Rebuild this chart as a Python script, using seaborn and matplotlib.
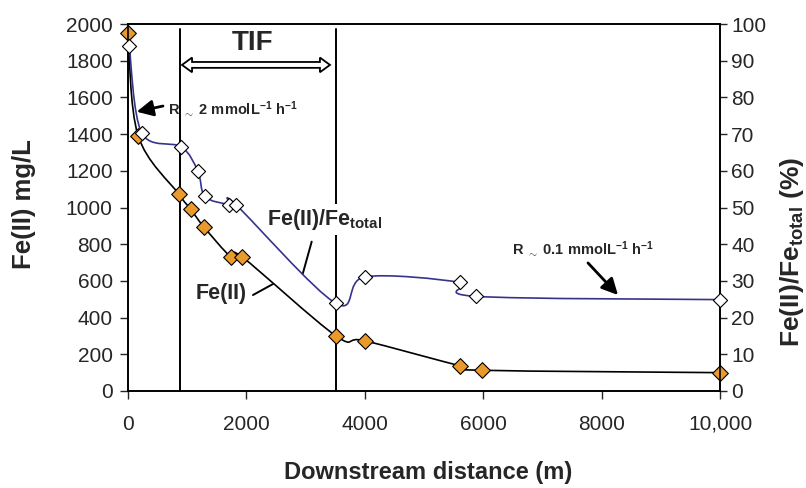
import numpy as np
import pandas as pd
import matplotlib
matplotlib.use("Agg")
import matplotlib.pyplot as plt
import matplotlib.patches as mpatches
from matplotlib.path import Path
import seaborn as sns

# values
dist_fe = [0, 170, 860, 1060, 1280, 1740, 1930, 3510, 4000, 5610, 5980, 10000]
fe2_mg = [1950, 1392, 1072, 990, 895, 730, 730, 301, 274, 137, 113, 100]

dist_ratio = [20, 230, 900, 1180, 1300, 1700, 1820, 3510, 4000, 5600, 5870, 10000]
ratio_pct = [94.1, 70.4, 66.5, 59.9, 53.0, 50.8, 50.8, 23.9, 31.1, 29.6, 25.8, 24.9]

tif_bounds = [870, 3520]
x_ticks = [0, 2000, 4000, 6000, 8000, 10000]
x_ticklabels = ["0", "2000", "4000", "6000", "8000", "10,000"]

ORANGE = "#E89B2C"
NAVY = "#36348A"


def smooth_path(xs, ys):
    """Excel-like smoothed line: cubic Bezier segments through every point."""
    pts = np.column_stack([xs, ys]).astype(float)
    padded = np.vstack([pts[0], pts, pts[-1]])
    verts = [pts[0]]
    codes = [Path.MOVETO]
    for i in range(len(pts) - 1):
        p0, p1, p2, p3 = padded[i], padded[i + 1], padded[i + 2], padded[i + 3]
        verts += [p1 + (p2 - p0) / 6, p2 - (p3 - p1) / 6, p2]
        codes += [Path.CURVE4] * 3
    return Path(verts, codes)


sns.set_theme(style="ticks")
plt.rcParams["font.family"] = ["Liberation Sans", "DejaVu Sans"]
plt.rcParams["mathtext.fontset"] = "custom"
plt.rcParams["mathtext.rm"] = "Liberation Sans:bold"
plt.rcParams["mathtext.bf"] = "Liberation Sans:bold"
plt.rcParams["mathtext.it"] = "Liberation Sans:bold"
plt.rcParams["mathtext.default"] = "rm"

fe_df = pd.DataFrame({"dist": dist_fe, "fe2": fe2_mg})
ratio_df = pd.DataFrame({"dist": dist_ratio, "ratio": ratio_pct})

fig = plt.figure(figsize=(8.06, 4.88), dpi=100)
ax = fig.add_axes([128 / 806, 1 - 391 / 488, 592 / 806, 367 / 488])
ax2 = ax.twinx()

# Fe(II) concentration (left axis)
ax.add_patch(mpatches.PathPatch(smooth_path(fe_df["dist"], fe_df["fe2"]),
                                fill=False, ec="black", lw=1.2, zorder=3))
sns.scatterplot(data=fe_df, x="dist", y="fe2", ax=ax, marker="D", s=64,
                color=ORANGE, edgecolor="black", linewidth=0.8,
                zorder=4, clip_on=False)

# Fe(II)/Fe_total (right axis)
ax2.add_patch(mpatches.PathPatch(smooth_path(ratio_df["dist"], ratio_df["ratio"]),
                                 fill=False, ec=NAVY, lw=1.2, zorder=3))
sns.scatterplot(data=ratio_df, x="dist", y="ratio", ax=ax2, marker="D", s=52,
                color="white", edgecolor="black", linewidth=0.8,
                zorder=4, clip_on=False)

# TIF boundaries
for xb in tif_bounds:
    ax.plot([xb, xb], [0, 1975], color="black", lw=1.4, zorder=2)

ax.set_xlim(0, 10000)
ax.set_ylim(0, 2000)
ax2.set_ylim(0, 100)
ax.set_xticks(x_ticks)
ax.set_xticklabels(x_ticklabels)
ax.set_yticks(range(0, 2001, 200))
ax2.set_yticks(range(0, 101, 10))
ax.tick_params(axis="x", direction="out", length=6, width=1, pad=11, labelsize=15)
ax.tick_params(axis="y", direction="out", length=6, width=1, pad=5, labelsize=15)
ax2.tick_params(axis="y", direction="out", length=5, width=1, pad=3, labelsize=15)
for a in (ax, ax2):
    for sp in a.spines.values():
        sp.set_visible(True)
        sp.set_color("black")
        sp.set_linewidth(1.2)
ax.set_xlabel("")
ax.set_ylabel("")
ax2.set_ylabel("")

fig.text(428 / 806, 1 - 473 / 488, "Downstream distance (m)", fontsize=17,
         fontweight="bold", ha="center", va="center")
fig.text(24 / 806, 1 - 204 / 488, "Fe(II) mg/L", fontsize=18.5, fontweight="bold",
         rotation=90, ha="center", va="center")
fig.text(792 / 806, 1 - 252 / 488, "Fe(II)/Fe$_{total}$ (%)", fontsize=19,
         fontweight="bold", rotation=90, ha="center", va="center")

# TIF label and hollow double arrow
ax.text(2110, 1895, "TIF", fontsize=20, fontweight="bold", ha="center", va="center")
x0, x1, yc, hs, hh, hl = 912, 3412, 1777, 16, 40, 170
arrow = [(x0, yc), (x0 + hl, yc + hh), (x0 + hl, yc + hs), (x1 - hl, yc + hs),
         (x1 - hl, yc + hh), (x1, yc), (x1 - hl, yc - hh), (x1 - hl, yc - hs),
         (x0 + hl, yc - hs), (x0 + hl, yc - hh)]
ax.add_patch(mpatches.Polygon(arrow, closed=True, fc="white", ec="black", lw=1.3, zorder=5))

# curve labels with leader lines
ax.text(2350, 905, "Fe(II)/Fe$_{total}$", fontsize=15.5, fontweight="bold",
        ha="left", va="baseline", zorder=6,
        bbox=dict(fc="white", ec="none", pad=2))
ax.plot([3103, 2951], [814, 638], color="black", lw=1.4, zorder=6)
ax.text(1150, 501, "Fe(II)", fontsize=15.5, fontweight="bold", ha="left", va="baseline", zorder=6)
ax.plot([2111, 2449], [523, 583], color="black", lw=1.4, zorder=6)

# rate annotations
arrow_kw = dict(arrowstyle="-|>,head_length=0.7,head_width=0.35", color="black",
                lw=2, mutation_scale=14, shrinkA=0, shrinkB=0)
ax.text(680, 1540, r"R $_{\sim}$ 2 mmolL$^{-1}$ h$^{-1}$", fontsize=10.5,
        fontweight="bold", ha="left", va="center", zorder=6)
ax.annotate("", xy=(147, 1522), xytext=(591, 1553), arrowprops=arrow_kw, zorder=6)
ax.text(6490, 774, r"R $_{\sim}$ 0.1 mmolL$^{-1}$ h$^{-1}$", fontsize=10.5,
        fontweight="bold", ha="left", va="center", zorder=6)
ax.annotate("", xy=(8277, 523), xytext=(7770, 698), arrowprops=arrow_kw, zorder=6)

fig.savefig("out.png", dpi=100)
